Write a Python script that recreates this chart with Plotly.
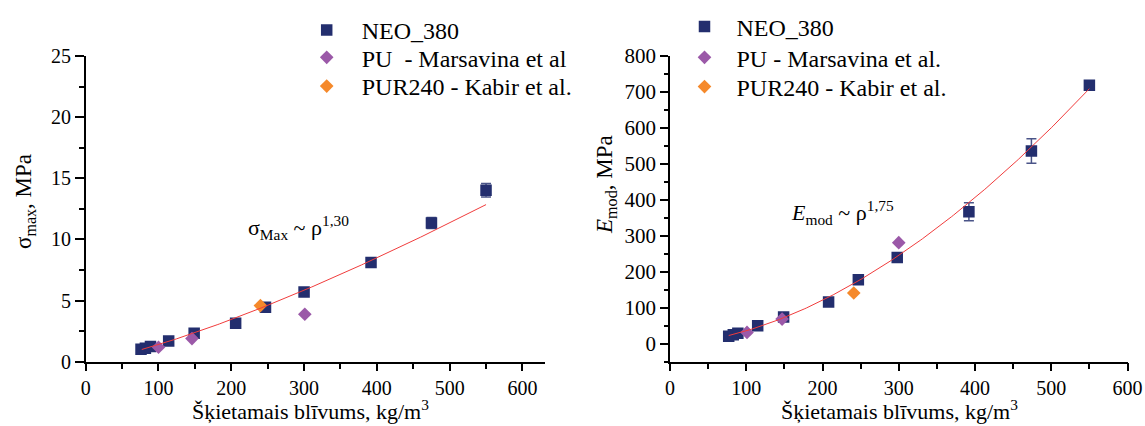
import numpy as np
import plotly.graph_objects as go

# ---- data: apparent density (kg/m3) vs. compressive strength and modulus ----
neo_rho_s = [76, 82, 89, 114, 149, 206, 247, 300, 392, 475, 550]
neo_sigma = [1.01, 1.1, 1.25, 1.70, 2.32, 3.15, 4.46, 5.69, 8.12, 11.34, 14.02]
neo_sigma_err = [0.05, 0.05, 0.05, 0.08, 0.1, 0.1, 0.15, 0.2, 0.3, 0.45, 0.55]

pu_rho_s = [100, 146, 301]
pu_sigma = [1.18, 1.89, 3.88]

pur_rho_s = [240]
pur_sigma = [4.59]

neo_rho_e = [77, 83, 89, 115, 149, 208, 247, 298, 392, 474, 550]
neo_emod = [21, 25, 29, 50, 74, 116, 178, 240, 367, 536, 719]
neo_emod_err = [2, 2, 2, 3, 4, 6, 9, 10, 25, 34, 8]

pu_rho_e = [101, 147, 300]
pu_emod = [31.5, 68.5, 281]

pur_rho_e = [241]
pur_emod = [141]

# power-law fits  y = a * rho^b
sig_a, sig_b = 0.003518, 1.30
emod_a, emod_b = 0.011354, 1.75
fit_rho_min, fit_rho_max = 77, 550

x_title = "Šķietamais blīvums, kg/m<sup>3</sup>"

NAVY = "#232E6E"
PURPLE = "#9B59A8"
ORANGE = "#F5892B"
RED = "#F03C3C"
FONT = "Liberation Serif"

fit_x = np.linspace(fit_rho_min, fit_rho_max, 200)

fig = go.Figure()

# left panel: strength
fig.add_trace(go.Scatter(
    x=neo_rho_s, y=neo_sigma, mode="markers", name="NEO_380",
    marker=dict(symbol="square", size=11.5, color=NAVY),
    error_y=dict(type="data", array=neo_sigma_err, color="#4A5488", thickness=1.5, width=5),
    xaxis="x", yaxis="y", legend="legend"))
fig.add_trace(go.Scatter(
    x=pu_rho_s, y=pu_sigma, mode="markers", name="PU  - Marsavina et al",
    marker=dict(symbol="diamond", size=10.5, color=PURPLE),
    xaxis="x", yaxis="y", legend="legend3"))
fig.add_trace(go.Scatter(
    x=pur_rho_s, y=pur_sigma, mode="markers", name="PUR240 - Kabir et al.",
    marker=dict(symbol="diamond", size=10.5, color=ORANGE),
    xaxis="x", yaxis="y", legend="legend4"))
fig.add_trace(go.Scatter(
    x=fit_x, y=sig_a * fit_x ** sig_b, mode="lines", showlegend=False,
    line=dict(color=RED, width=1), xaxis="x", yaxis="y", hoverinfo="skip"))

# right panel: modulus
fig.add_trace(go.Scatter(
    x=neo_rho_e, y=neo_emod, mode="markers", name="NEO_380",
    marker=dict(symbol="square", size=11.5, color=NAVY),
    error_y=dict(type="data", array=neo_emod_err, color="#4A5488", thickness=1.5, width=5),
    xaxis="x2", yaxis="y2", legend="legend2"))
fig.add_trace(go.Scatter(
    x=pu_rho_e, y=pu_emod, mode="markers", name="PU - Marsavina et al.",
    marker=dict(symbol="diamond", size=10.5, color=PURPLE),
    xaxis="x2", yaxis="y2", legend="legend5"))
fig.add_trace(go.Scatter(
    x=pur_rho_e, y=pur_emod, mode="markers", name="PUR240 - Kabir et al.",
    marker=dict(symbol="diamond", size=10.5, color=ORANGE),
    xaxis="x2", yaxis="y2", legend="legend6"))
fig.add_trace(go.Scatter(
    x=fit_x, y=emod_a * fit_x ** emod_b, mode="lines", showlegend=False,
    line=dict(color=RED, width=1), xaxis="x2", yaxis="y2", hoverinfo="skip"))

W, H = 1145, 426
tickfont = dict(family=FONT, size=20, color="black")
axis_common = dict(
    showline=True, linecolor="black", linewidth=1.5, mirror=False,
    showgrid=False, zeroline=False, ticks="outside", tickcolor="black",
    tickwidth=1.5, tickfont=tickfont, automargin=False,
)
xaxis_common = dict(axis_common, ticklen=8, dtick=100, tick0=0,
                    minor=dict(dtick=50, ticks="outside", ticklen=6,
                               tickwidth=1.5, tickcolor="black"))

ydom = [64.3 / H, 370 / H]
legend_font = dict(family=FONT, size=24, color="black")


def legend_box(left_px, top_px, itemwidth):
    return dict(x=left_px / W, y=1 - top_px / H, xanchor="left", yanchor="top",
                font=legend_font, bgcolor="rgba(0,0,0,0)", itemwidth=itemwidth)


fig.update_layout(
    width=W, height=H,
    margin=dict(l=0, r=0, t=0, b=0, autoexpand=False),
    paper_bgcolor="white", plot_bgcolor="white",
    font=dict(family=FONT, color="black"),
    xaxis=dict(xaxis_common, domain=[85.7 / W, 545 / W], range=[0, 631], anchor="y"),
    yaxis=dict(axis_common, domain=ydom, range=[0, 25], dtick=5, tick0=0, ticklen=9,
               minor=dict(dtick=2.5, ticks="outside", ticklen=4.5, tickwidth=1.5,
                          tickcolor="black"), anchor="x"),
    xaxis2=dict(xaxis_common, domain=[670 / W, 1127.5 / W], range=[0, 600], anchor="y2"),
    yaxis2=dict(axis_common, domain=ydom, range=[-50, 800], dtick=100, tick0=0, ticklen=8,
                tickfont=dict(family=FONT, size=21, color="black"),
                minor=dict(dtick=50, ticks="outside", ticklen=4.5, tickwidth=1.5,
                           tickcolor="black"), anchor="x2"),
    legend=legend_box(291.7, 7.8, 60),
    legend3=legend_box(291.7, 35.2, 60),
    legend4=legend_box(291.7, 64.0, 60),
    legend2=legend_box(672.5, 4.5, 54),
    legend5=legend_box(672.5, 35.2, 54),
    legend6=legend_box(672.5, 64.5, 54),
    showlegend=True,
)

annots = [
    # axis titles
    dict(text=x_title, x=310 / W, y=1 - 410 / H, font=dict(size=22)),
    dict(text=x_title, x=900 / W, y=1 - 410 / H, font=dict(size=22)),
    dict(text="σ<sub>max</sub>, MPa", x=25 / W, y=1 - 202 / H, textangle=-90,
         font=dict(size=23)),
    dict(text="<i>E</i><sub>mod</sub>, MPa", x=606 / W, y=1 - 185 / H, textangle=-90,
         font=dict(size=23)),
    # fit equations
    dict(text="σ<sub>Max</sub> ~ ρ<sup>1,30</sup>", x=298.5 / W, y=1 - 227 / H,
         font=dict(size=22)),
    dict(text="<i>E</i><sub>mod</sub> ~ ρ<sup>1,75</sup>", x=842 / W, y=1 - 212 / H,
         font=dict(size=22)),
]
for a in annots:
    a.update(xref="paper", yref="paper", showarrow=False,
             xanchor="center", yanchor="middle")
    a["font"] = dict(family=FONT, color="black", **a["font"])
fig.update_layout(annotations=annots)

fig.write_html("out.html")
